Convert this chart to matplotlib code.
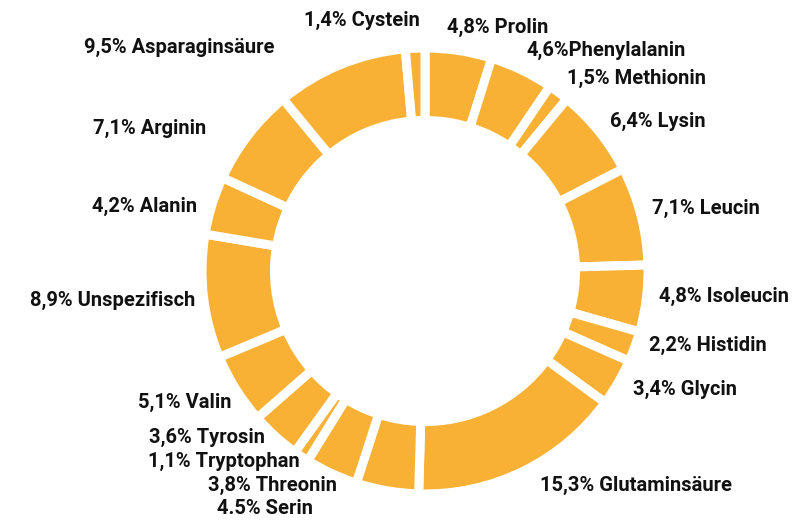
import matplotlib.pyplot as plt

# clockwise from 12 o'clock
labels = ["4,8% Prolin", "4,6%Phenylalanin", "1,5% Methionin", "6,4% Lysin",
          "7,1% Leucin", "4,8% Isoleucin", "2,2% Histidin", "3,4% Glycin",
          "15,3% Glutaminsäure", "4.5% Serin", "3,8% Threonin", "1,1% Tryptophan",
          "3,6% Tyrosin", "5,1% Valin", "8,9% Unspezifisch", "4,2% Alanin",
          "7,1% Arginin", "9,5% Asparaginsäure", "1,4% Cystein"]
shares = [4.8, 4.6, 1.5, 6.4, 7.1, 4.8, 2.2, 3.4, 15.3, 4.5, 3.8, 1.1,
          3.6, 5.1, 8.9, 4.2, 7.1, 9.5, 1.4]

# label anchor points in pixels (top-left origin)
label_pos = [(447, 27), (527, 50), (567, 78), (610, 121), (652, 208),
             (659, 296), (649, 345), (633, 389), (540, 485), (313, 509),
             (337, 485), (300, 461), (265, 437), (232, 402), (195, 300),
             (197, 206), (206, 128), (275, 47), (420, 20)]

W, H = 809, 522
cx, cy, R = 425, 271, 223

fig = plt.figure(figsize=(W / 100, H / 100), dpi=100)
ax = fig.add_axes([0, 0, 1, 1])

ax.pie(shares, startangle=90, counterclock=False, radius=R, center=(cx, H - cy),
       colors=["#F8B135"] * len(shares),
       wedgeprops=dict(width=R * 0.325, edgecolor="white", linewidth=6.5))

for txt, (x, y) in zip(labels, label_pos):
    ha = "left" if x > cx else "right"
    ax.text(x, H - y, txt, ha=ha, va="center", fontsize=14.5,
            fontweight="bold", family="Roboto", color="#111111")

ax.set_xlim(0, W)
ax.set_ylim(0, H)
ax.set_aspect("equal")
ax.axis("off")
fig.savefig("out.png", dpi=100)
